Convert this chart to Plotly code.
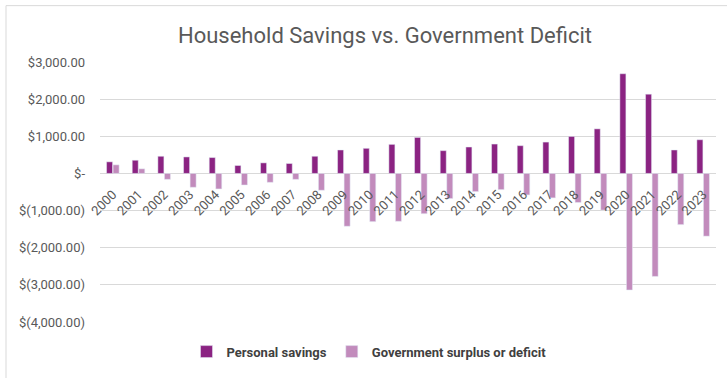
import plotly.graph_objects as go

years = [str(y) for y in range(2000, 2024)]
personal_savings = [312, 355, 462, 444, 427, 213, 284, 267, 462, 631,
                    676, 782, 969, 613, 711, 791, 747, 844, 996, 1200,
                    2684, 2133, 631, 907]
gov_surplus = [231, 124, -160, -373, -418, -311, -240, -160, -453, -1422,
               -1298, -1289, -1084, -676, -489, -436, -578, -658, -782, -987,
               -3138, -2773, -1378, -1689]
y_tickvals = [3000, 2000, 1000, 0, -1000, -2000, -3000, -4000]
y_ticktext = ["$3,000.00", "$2,000.00", "$1,000.00", "$-", "$(1,000.00)",
              "$(2,000.00)", "$(3,000.00)", "$(4,000.00)"]

W, H = 727, 378
ml, mr, mt, mb = 100, 11, 62, 53
pw, ph = W - ml - mr, H - mt - mb

def px_x(p):
    return (p - ml) / pw

def px_y(p):
    return (H - mb - p) / ph

fig = go.Figure()
fig.add_trace(go.Bar(x=years, y=personal_savings, name="Personal savings",
                     marker_color="#8B2382"))
fig.add_trace(go.Bar(x=years, y=gov_surplus, name="Government surplus or deficit",
                     marker_color="#C28BBC"))

ymin, ymax = -4000, 3000
zero_frac = (0 - ymin) / (ymax - ymin)

fig.update_layout(
    width=W, height=H,
    margin=dict(l=ml, r=mr, t=mt, b=mb),
    paper_bgcolor="white", plot_bgcolor="white",
    font=dict(family="Roboto", color="#595959", size=13),
    title=dict(text="Household Savings vs. Government Deficit",
               x=385 / W, xanchor="center", xref="container",
               y=1 - 35 / H, yanchor="middle", yref="container",
               font=dict(size=22, color="#595959", family="Roboto")),
    barmode="group", bargap=0.49, bargroupgap=0.08,
    showlegend=True,
    legend=dict(orientation="h", x=px_x(369), xanchor="center", y=px_y(355),
                yanchor="middle",
                font=dict(size=13, color="#404040", family="Roboto", weight="bold"),
                itemwidth=30, tracegroupgap=0, traceorder="normal"),
    xaxis=dict(type="category", anchor="free", position=zero_frac,
               showgrid=False, showline=False, zeroline=False,
               tickangle=-45, ticks="", ticklabelstandoff=10,
               tickfont=dict(size=13, color="#595959")),
    yaxis=dict(range=[ymin, ymax], tickvals=y_tickvals, ticktext=y_ticktext,
               showgrid=True, gridcolor="#d9d9d9", gridwidth=1,
               zeroline=True, zerolinecolor="#d9d9d9", zerolinewidth=1,
               showline=False, ticks="", ticklabelstandoff=14,
               tickfont=dict(size=13, color="#595959")),
)

fig.add_shape(type="rect", xref="paper", yref="paper",
              x0=px_x(6), x1=px_x(740), y0=px_y(390), y1=px_y(5),
              line=dict(color="#d9d9d9", width=1), fillcolor="rgba(0,0,0,0)",
              layer="below")

fig.write_html("out.html")
